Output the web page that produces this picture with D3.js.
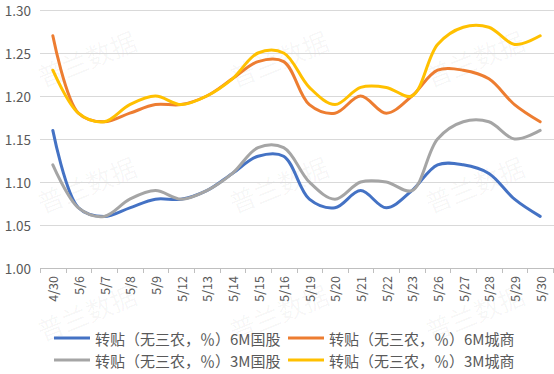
<!DOCTYPE html>
<html>
<head>
<meta charset="utf-8">
<script src="https://cdn.jsdelivr.net/npm/d3@7"></script>
<style>
  html, body { margin: 0; padding: 0; background: #fff; }
  svg { display: block; font-family: "Noto Sans CJK SC", "Noto Sans", sans-serif; }
</style>
</head>
<body>
<svg id="chart" width="554" height="374"></svg>
<script>
// 日期（横轴）
const dates = ["4/30", "5/6", "5/7", "5/8", "5/9", "5/12", "5/13", "5/14", "5/15", "5/16",
               "5/19", "5/20", "5/21", "5/22", "5/23", "5/26", "5/27", "5/28", "5/29", "5/30"];

// 各系列数值（%）
const gu6M  = [1.16, 1.07, 1.06, 1.07, 1.08, 1.08, 1.09, 1.11, 1.13, 1.13,
               1.08, 1.07, 1.09, 1.07, 1.09, 1.12, 1.12, 1.11, 1.08, 1.06];
const cs6M  = [1.27, 1.18, 1.17, 1.18, 1.19, 1.19, 1.20, 1.22, 1.24, 1.24,
               1.19, 1.18, 1.20, 1.18, 1.20, 1.23, 1.23, 1.22, 1.19, 1.17];
const gu3M  = [1.12, 1.07, 1.06, 1.08, 1.09, 1.08, 1.09, 1.11, 1.14, 1.14,
               1.10, 1.08, 1.10, 1.10, 1.09, 1.15, 1.17, 1.17, 1.15, 1.16];
const cs3M  = [1.23, 1.18, 1.17, 1.19, 1.20, 1.19, 1.20, 1.22, 1.25, 1.25,
               1.21, 1.19, 1.21, 1.21, 1.20, 1.26, 1.28, 1.28, 1.26, 1.27];

const yTicks = [1.00, 1.05, 1.10, 1.15, 1.20, 1.25, 1.30];

const seriesNames = ["转贴（无三农，％）6M国股", "转贴（无三农，％）6M城商",
                     "转贴（无三农，％）3M国股", "转贴（无三农，％）3M城商"];
const seriesColors = ["#4472C4", "#ED7D31", "#A5A5A5", "#FFC000"];

const series = [
  { name: seriesNames[0], color: seriesColors[0], values: gu6M },
  { name: seriesNames[1], color: seriesColors[1], values: cs6M },
  { name: seriesNames[2], color: seriesColors[2], values: gu3M },
  { name: seriesNames[3], color: seriesColors[3], values: cs3M }
];

/* ── 布局 ─────────────────────────── */
const svg = d3.select("#chart");
const plotL = 40, plotR = 553, plotT = 10, plotB = 268;

const x = d3.scaleBand().domain(dates).range([plotL, plotR]);
const y = d3.scaleLinear().domain([1.0, 1.3]).range([plotB, plotT]);

/* ── 水印 ─────────────────────────── */
const wmX = [88, 280, 476], wmY = [62, 188, 316];
wmX.forEach(wx => wmY.forEach(wy => {
  svg.append("text")
    .attr("transform", `translate(${wx},${wy}) rotate(-22)`)
    .attr("text-anchor", "middle")
    .attr("dominant-baseline", "middle")
    .attr("font-size", 26)
    .attr("fill", "#000")
    .attr("fill-opacity", 0.04)
    .text("普兰数据");
}));

/* ── 网格线与纵轴 ─────────────────── */
svg.append("g")
  .selectAll("line")
  .data(yTicks.filter(t => t > 1.0))
  .join("line")
  .attr("x1", plotL).attr("x2", 554)
  .attr("y1", d => Math.round(y(d)) + 0.5)
  .attr("y2", d => Math.round(y(d)) + 0.5)
  .attr("stroke", "#D9D9D9")
  .attr("stroke-width", 1);

svg.append("g")
  .selectAll("text")
  .data(yTicks)
  .join("text")
  .attr("x", 31)
  .attr("y", d => y(d))
  .attr("text-anchor", "end")
  .attr("dominant-baseline", "central")
  .attr("font-size", 13.5)
  .attr("fill", "#595959")
  .text(d => d.toFixed(2));

/* ── 横轴 ─────────────────────────── */
const xAxis = svg.append("g")
  .attr("transform", `translate(0,${Math.round(plotB) + 0.5})`)
  .call(d3.axisBottom(x).tickSize(0).tickFormat(""));
xAxis.select(".domain").attr("stroke", "#BFBFBF").attr("d", `M${plotL},0H${plotR}`);

svg.append("g")
  .selectAll("line")
  .data(d3.range(dates.length + 1))
  .join("line")
  .attr("x1", i => Math.round(plotL + i * x.step()) + 0.5)
  .attr("x2", i => Math.round(plotL + i * x.step()) + 0.5)
  .attr("y1", plotB)
  .attr("y2", plotB + 5)
  .attr("stroke", "#BFBFBF");

svg.append("g")
  .selectAll("text")
  .data(dates)
  .join("text")
  .attr("transform", d => `translate(${x(d) + x.bandwidth() / 2},${plotB + 8}) rotate(-90)`)
  .attr("text-anchor", "end")
  .attr("dominant-baseline", "central")
  .attr("font-size", 12.5)
  .attr("fill", "#595959")
  .text(d => d);

/* ── 折线 ─────────────────────────── */
const line = d3.line()
  .x((d, i) => x(dates[i]) + x.bandwidth() / 2)
  .y(d => y(d))
  .curve(d3.curveCatmullRom.alpha(0.5));

svg.append("g")
  .selectAll("path")
  .data(series)
  .join("path")
  .attr("d", s => line(s.values))
  .attr("fill", "none")
  .attr("stroke", s => s.color)
  .attr("stroke-width", 3)
  .attr("stroke-linejoin", "round")
  .attr("stroke-linecap", "round");

/* ── 图例 ─────────────────────────── */
const legendPos = [[54, 338], [288, 338], [54, 360], [288, 360]];
const legend = svg.append("g")
  .selectAll("g")
  .data(series)
  .join("g")
  .attr("transform", (s, i) => `translate(${legendPos[i][0]},${legendPos[i][1]})`);

legend.append("line")
  .attr("x1", 0).attr("x2", 36)
  .attr("stroke", s => s.color)
  .attr("stroke-width", 3);

legend.append("text")
  .attr("x", 41)
  .attr("dominant-baseline", "central")
  .attr("font-size", 15)
  .attr("fill", "#595959")
  .text(s => s.name);
</script>
</body>
</html>
